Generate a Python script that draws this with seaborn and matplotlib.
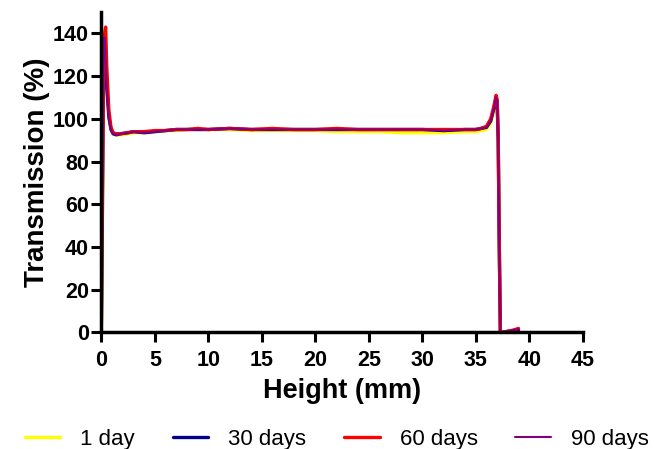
import pandas as pd
import seaborn as sns
import matplotlib.pyplot as plt

# height (mm) sample points
height = [0.0, 0.1, 0.2, 0.3, 0.4, 0.5, 0.7, 0.9, 1.1, 1.4, 1.8, 2.5, 3.0, 4.0, 5.0,
          6.0, 7.0, 8.0, 9.0, 10.0, 12.0, 14.0, 16.0, 18.0, 20.0, 22.0, 24.0, 26.0,
          28.0, 30.0, 32.0, 34.0, 35.0, 35.5, 36.0, 36.4, 36.7, 36.9, 37.0, 37.1,
          37.2, 37.3, 37.5, 38.0, 38.5, 39.0]

day1 = [3, 55, 128, 134, 126, 114, 100, 95, 93, 92.5, 92.5, 93, 93.5, 93.5, 94,
        94.5, 94.5, 95, 95, 95, 95, 94.5, 94.5, 94.5, 94.5, 94, 94, 94, 93.5, 93.5,
        93.5, 94, 94, 94.5, 95, 98, 104, 109, 107, 88, 38, 0, 0, 0.3, 0.5, 0.8]
day30 = [4, 58, 130, 136, 127, 115, 101, 95, 93, 92.5, 93, 93.5, 94, 93.5, 94,
         94.5, 95, 95, 95, 95, 95.5, 95, 95, 95, 95, 95, 95, 95, 95, 95, 94.5, 95,
         95, 95.5, 96, 99, 105, 110, 108, 90, 40, 0, 0, 0.4, 0.8, 1.2]
day60 = [6, 70, 126, 140, 143, 125, 104, 96, 93.5, 93, 93, 93.5, 94, 94, 94.5,
         94.5, 95, 95, 95.5, 95, 95.5, 95, 95.5, 95, 95, 95.5, 95, 95, 95, 95, 95,
         95, 95, 95.5, 96.5, 100, 106, 111, 109, 92, 42, 0, 0, 0.5, 1.0, 1.8]
day90 = [5, 60, 133, 138, 128, 115, 100, 95, 93, 92.5, 93, 93.5, 94, 93.5, 94,
         94.5, 95, 95, 95, 95, 95.5, 95, 95, 95, 95, 95, 95, 95, 95, 95, 94.5, 95,
         95, 95.5, 96, 99, 105, 110, 108, 90, 40, 0, 0, 0.5, 1.0, 1.5]

labels = ["1 day", "30 days", "60 days", "90 days"]
colors = ["#FFFF00", "#00008B", "#FF0000", "#800080"]
widths = [2.4, 2.4, 2.4, 1.5]

sns.set_style("ticks")
plt.rcParams["font.family"] = ["Liberation Sans", "DejaVu Sans"]

fig = plt.figure(figsize=(6.54, 4.49), dpi=100)
ax = fig.add_axes([0.155, 0.26, 0.736, 0.713])

for lab, vals, c, w in zip(labels, [day1, day30, day60, day90], colors, widths):
    df = pd.DataFrame({"Height": height, "T": vals})
    sns.lineplot(data=df, x="Height", y="T", color=c, linewidth=w, label=lab,
                 estimator=None, sort=False, ax=ax)

ax.set_xlim(0, 45)
ax.set_ylim(0, 150)
ax.set_xticks(range(0, 46, 5))
ax.set_yticks(range(0, 141, 20))
ax.set_xlabel("Height (mm)", fontsize=19.5, fontweight="bold", labelpad=5,
              color="black")
ax.set_ylabel("Transmission (%)", fontsize=20, fontweight="bold", labelpad=2,
              color="black")
for t in ax.get_xticklabels() + ax.get_yticklabels():
    t.set_fontweight("bold")
ax.tick_params(axis="both", labelsize=15.5, width=2.2, length=7, colors="black")
ax.tick_params(axis="x", pad=5.5)
ax.tick_params(axis="y", pad=2)
sns.despine(ax=ax)
for s in ["left", "bottom"]:
    ax.spines[s].set_linewidth(2.5)
    ax.spines[s].set_color("black")

handles, labs = ax.get_legend_handles_labels()
ax.get_legend().remove()
fig.legend(handles, labs, loc="lower center", bbox_to_anchor=(0.515, -0.046),
           ncol=4, frameon=False, fontsize=16, handlelength=1.6,
           columnspacing=1.7, handletextpad=0.9, labelcolor="black")

fig.savefig("out.png", dpi=100)
